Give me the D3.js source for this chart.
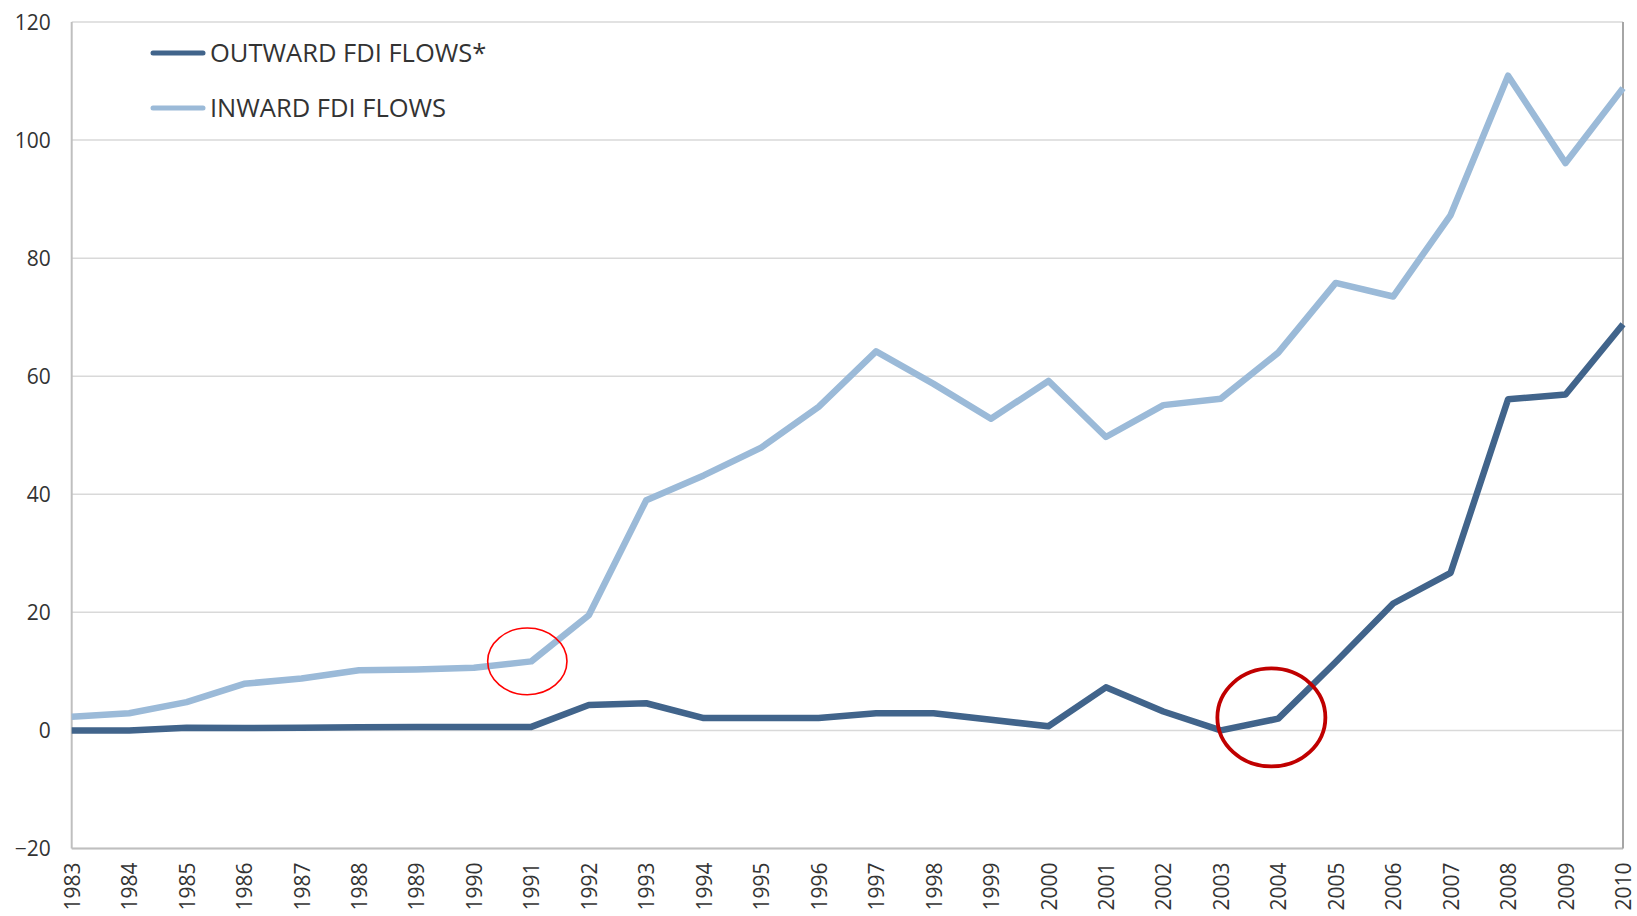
<!DOCTYPE html>
<html>
<head>
<meta charset="utf-8">
<title>FDI flows</title>
<script src="https://cdn.jsdelivr.net/npm/d3@7/dist/d3.min.js"></script>
<style>
  body { margin: 0; background: #fff; }
  text { font-family: "Open Sans", "Noto Sans", sans-serif; fill: #333; }
</style>
</head>
<body>
<script>
// years on the x axis
var years = [1983, 1984, 1985, 1986, 1987, 1988, 1989, 1990, 1991, 1992,
             1993, 1994, 1995, 1996, 1997, 1998, 1999, 2000, 2001, 2002,
             2003, 2004, 2005, 2006, 2007, 2008, 2009, 2010];

// outward FDI flows
var outward = [0, 0, 0.45, 0.4, 0.45, 0.55, 0.6, 0.6, 0.6, 4.3,
               4.6, 2.1, 2.1, 2.1, 2.9, 2.9, 1.8, 0.7, 7.3, 3.2,
               0, 2.0, 11.6, 21.5, 26.7, 56.1, 56.9, 68.8];

// inward FDI flows
var inward = [2.3, 2.9, 4.8, 7.9, 8.8, 10.2, 10.3, 10.6, 11.7, 19.5,
              39.0, 43.2, 47.9, 54.8, 64.2, 58.7, 52.8, 59.2, 49.7, 55.1,
              56.2, 64.0, 75.8, 73.5, 87.3, 110.9, 96.1, 108.8];

var yTicks = [-20, 0, 20, 40, 60, 80, 100, 120];
var seriesNames = ["OUTWARD FDI FLOWS*", "INWARD FDI FLOWS"];

// hand-drawn ellipses: centre year/value, half width in years, half height in value
var marks = [
  { year: 1990.93, value: 11.7, ry: 5.65, rx: 0.69, color: "#ff0000", w: 1.6 },
  { year: 2003.88, value: 2.2, ry: 8.3, rx: 0.94, color: "#c00000", w: 3.8 }
];

var width = 1637, height = 916;
var plotLeft = 71.7, plotRight = 1623, plotTop = 22, plotBottom = 848.5;

var svg = d3.select("body").append("svg")
    .attr("width", width)
    .attr("height", height);

var x = d3.scaleLinear().domain([1983, 2010]).range([plotLeft, plotRight]);
var y = d3.scaleLinear().domain([-20, 120]).range([plotBottom, plotTop]);

// gridlines
svg.append("g")
  .selectAll("line")
  .data(yTicks)
  .enter()
  .append("line")
    .attr("x1", plotLeft).attr("x2", plotRight)
    .attr("y1", function(d) { return y(d); })
    .attr("y2", function(d) { return y(d); })
    .attr("stroke", "#d9d9d9")
    .attr("stroke-width", 1.5);

// frame
svg.append("line").attr("x1", plotLeft).attr("x2", plotLeft).attr("y1", plotTop).attr("y2", plotBottom)
    .attr("stroke", "#bfbfbf").attr("stroke-width", 2);
svg.append("line").attr("x1", plotLeft).attr("x2", plotRight).attr("y1", plotBottom).attr("y2", plotBottom)
    .attr("stroke", "#bfbfbf").attr("stroke-width", 2);
svg.append("line").attr("x1", plotRight).attr("x2", plotRight).attr("y1", plotTop).attr("y2", plotBottom)
    .attr("stroke", "#a6a6a6").attr("stroke-width", 2);

// y axis labels
var yAxis = d3.axisLeft(y).tickValues(yTicks).tickSize(0).tickPadding(0);
var gy = svg.append("g")
    .attr("transform", "translate(" + (plotLeft - 21) + ",0)")
    .call(yAxis);
gy.select(".domain").remove();
gy.selectAll("text")
    .style("font-size", "21px")
    .attr("fill", "#333")
    .attr("dy", "0.35em");

// x axis labels
var xAxis = d3.axisBottom(x).tickValues(years).tickFormat(d3.format("d")).tickSize(0);
var gx = svg.append("g")
    .attr("transform", "translate(0," + (plotBottom + 14) + ")")
    .call(xAxis);
gx.select(".domain").remove();
gx.selectAll("text")
    .style("font-size", "21px")
    .attr("fill", "#333")
    .attr("text-anchor", "end")
    .attr("transform", "rotate(-90)")
    .attr("x", 0)
    .attr("y", 0)
    .attr("dy", "0.36em");

// lines
var line = d3.line()
    .x(function(d, i) { return x(years[i]); })
    .y(function(d) { return y(d); });

svg.append("path")
    .datum(inward)
    .attr("d", line)
    .attr("fill", "none")
    .attr("stroke", "#9bbad8")
    .attr("stroke-width", 6.5)
    .attr("stroke-linejoin", "round");

svg.append("path")
    .datum(outward)
    .attr("d", line)
    .attr("fill", "none")
    .attr("stroke", "#41648b")
    .attr("stroke-width", 6.5)
    .attr("stroke-linejoin", "round");

// ellipses
svg.selectAll("ellipse")
    .data(marks)
    .enter()
    .append("ellipse")
    .attr("cx", function(d) { return x(d.year); })
    .attr("cy", function(d) { return y(d.value); })
    .attr("rx", function(d) { return x(d.year + d.rx) - x(d.year); })
    .attr("ry", function(d) { return y(0) - y(d.ry); })
    .attr("fill", "none")
    .attr("stroke", function(d) { return d.color; })
    .attr("stroke-width", function(d) { return d.w; });

// legend
var legendColors = ["#41648b", "#9bbad8"];
var lg = svg.append("g").selectAll("g")
    .data(seriesNames)
    .enter()
    .append("g")
    .attr("transform", function(d, i) { return "translate(153," + (53 + i * 55) + ")"; });
lg.append("line")
    .attr("x1", 0).attr("x2", 50)
    .attr("stroke", function(d, i) { return legendColors[i]; })
    .attr("stroke-width", 5)
    .attr("stroke-linecap", "round");
lg.append("text")
    .attr("x", 57)
    .attr("dy", "0.36em")
    .style("font-size", "25.5px")
    .text(function(d) { return d; });
</script>
</body>
</html>
